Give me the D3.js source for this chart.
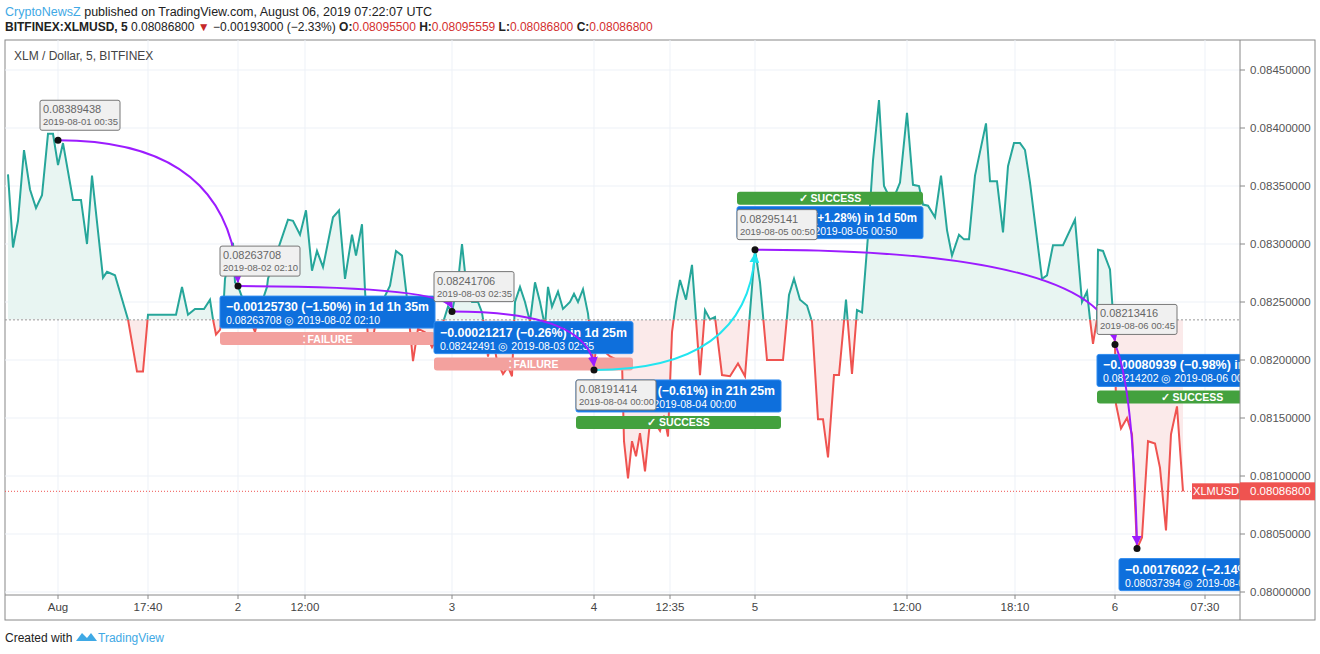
<!DOCTYPE html>
<html><head><meta charset="utf-8">
<script src="https://cdn.jsdelivr.net/npm/d3@7"></script>
<style>body{margin:0;background:#fff}svg{font-family:"Liberation Sans",Arial,sans-serif}</style>
</head><body><svg id="c" width="1320" height="654"></svg>
<script>
// bar index and price
const bars=[0,1,2,3.2,4.4,5.6,6.8,8,9,10,11,13,14.6,15.8,16.8,19,19.8,21.4,24,25.8,27,28,33.6,34.8,36,37.4,39.2,40.4,41,41.6,42.4,43,43.4,45,45.4,46,48,49.4,50.8,51.8,52,56,57,58.4,59.6,60.8,61.8,63,65,66.2,67.4,68.8,69.6,70.8,71.4,72,73,73.8,76.4,77.6,78.8,79.8,81,82,83.4,84.8,86.4,88,88.8,90,90.8,91.8,92.8,94,94.8,95.4,96,96.8,97.8,99,100,100.8,101.4,102.4,103.4,104.4,105.4,106.4,107.4,108,108.8,110,111,112.4,113.2,114,115,116,116.4,117.2,118,119.4,120.4,121.8,122.8,123.2,124,124.8,125.6,126.4,127.4,128.4,129.2,130.4,131.2,132,132.8,133.6,134.4,135.6,136.8,137.6,138.4,139.4,140.4,141.4,142.8,144.4,146,147.4,148.4,149.4,150.4,151.8,155,156.2,157.2,158.4,159.8,160.8,162,163,164,165.2,166.2,167.6,168.8,169.8,170.8,172,173,174.2,175.2,176.8,178.4,179.8,181,182.2,183,184,185.4,186.6,187.8,188.8,190.2,191.2,192.2,193.4,195.6,196.4,197.8,199,200,201.2,202.4,203.4,204.4,206.8,207.8,209,211,213.4,214.8,215.8,216.4,217,217.8,218,219,220.4,221.4,221.6,222.6,223.8,224.8,225.8,226.8,228,229.4,230.4,231.6,232.6,233.8,235];
const prices=[0.08360,0.08297,0.08320,0.08381,0.08347,0.08331,0.08342,0.08395,0.08395,0.08368,0.08387,0.08338,0.08338,0.08300,0.08359,0.08271,0.08276,0.08273,0.08235,0.08190,0.08190,0.08239,0.08239,0.08263,0.08239,0.08244,0.08244,0.08252,0.08235,0.08222,0.08226,0.08239,0.08270,0.08301,0.08267,0.08263708,0.08240,0.08224,0.08250,0.08263,0.08270,0.08321,0.08320,0.08308,0.08329,0.08277,0.08294,0.08280,0.08323,0.08329,0.08270,0.08308,0.08290,0.08317,0.08260,0.08218,0.08218,0.08241,0.08264,0.08294,0.08290,0.08253,0.08199,0.08227,0.08224,0.08211,0.08224,0.08246,0.08241706,0.08267,0.08300,0.08259,0.08250,0.08250,0.08241,0.08224,0.08203,0.08224,0.08199,0.08188,0.08194,0.08186,0.08250,0.08263,0.08250,0.08233,0.08267,0.08250,0.08229,0.08263,0.08246,0.08259,0.08244,0.08250,0.08257,0.08250,0.08261,0.08240,0.08224,0.08191414,0.08233,0.08207,0.08203,0.08200,0.08199,0.08130,0.08098,0.08130,0.08117,0.08137,0.08104,0.08147,0.08147,0.08139,0.08152,0.08134,0.08224,0.08250,0.08269,0.08252,0.08282,0.08235,0.08187,0.08243,0.08235,0.08237,0.08187,0.08186,0.08197,0.08186,0.08241,0.08295141,0.08267,0.08200,0.08200,0.08256,0.08270,0.08252,0.08247,0.08233,0.08149,0.08149,0.08116,0.08187,0.08187,0.08252,0.08188,0.08243,0.08241,0.08307,0.08372,0.08424,0.08350,0.08336,0.08353,0.08413,0.08351,0.08350,0.08334,0.08333,0.08323,0.08359,0.08312,0.08290,0.08308,0.08304,0.08304,0.08359,0.08404,0.08354,0.08354,0.08310,0.08367,0.08387,0.08387,0.08381,0.08353,0.08270,0.08273,0.08299,0.08299,0.08321,0.08250,0.08259,0.08235,0.08214,0.08235,0.08295,0.08294,0.08278,0.08213416,0.08162,0.08141,0.08150,0.08136,0.08037394,0.08047,0.08130,0.08128,0.08107,0.08053,0.08136,0.08160,0.08086800];
const baseline=0.082346, lastPrice=0.080868;
const xTickBars=[10,28,46,59.4,88.8,117.2,132.4,149.4,179.8,201.4,221.4,239.4];
const xTickLabels=["Aug","17:40","2","12:00","3","4","12:35","5","12:00","18:10","6","07:30"];
const yTicks=[0.0800,0.0805,0.0810,0.0815,0.0820,0.0825,0.0830,0.0835,0.0840,0.0845];
// annotated points
const ptBars=[10,46,88.8,117.2,149.4,221.4,225.8];
const ptVals=[0.08389438,0.08263708,0.08241706,0.08191414,0.08295141,0.08213416,0.08037394];
const ptDates=["2019-08-01 00:35","2019-08-02 02:10","2019-08-03 02:35","2019-08-04 00:00","2019-08-05 00:50","2019-08-06 00:45",""];
const labelSide=["up","up","up","down","up","up",null];
const boxMain=["","−0.00125730 (−1.50%) in 1d 1h 35m","−0.00021217 (−0.26%) in 1d 25m","−0.00050292 (−0.61%) in 21h 25m","+0.00103727 (+1.28%) in 1d 50m","−0.00080939 (−0.98%) in 1d 45m","−0.00176022 (−2.14%) in 35m"];
const boxSub=["","0.08263708 ◎ 2019-08-02  02:10","0.08242491 ◎ 2019-08-03  02:35","0.08191414 ◎ 2019-08-04  00:00","0.08295141 ◎ 2019-08-05  00:50","0.08214202 ◎ 2019-08-06  00:45","0.08037394 ◎ 2019-08-06  01:20"];
const outcome=["","FAILURE","FAILURE","SUCCESS","SUCCESS","SUCCESS",""];
const arrowColor=["#9c1cff","#9c1cff","#9c1cff","#22e5f0","#9c1cff","#9c1cff"];

const svg=d3.select("#c");
const L=5,R=1240,T=40,B=595;
const x=d3.scaleLinear().domain([0,246.4]).range([8,1240]);
const y=d3.scaleLinear().domain([0.0800,0.0845]).range([592,70]);
svg.append("rect").attr("x",L).attr("y",T).attr("width",1315-L).attr("height",620-T).attr("fill","none").attr("stroke","#888");
svg.append("defs").html(`<clipPath id="pc"><rect x="${L}" y="${T}" width="${R-L}" height="${B-T}"/></clipPath>
<clipPath id="ab"><rect x="${L}" y="${T}" width="${R-L}" height="${y(baseline)-T}"/></clipPath>
<clipPath id="bl"><rect x="${L}" y="${y(baseline)}" width="${R-L}" height="${B-y(baseline)}"/></clipPath>
<marker id="mp" viewBox="0 0 10 10" refX="9" refY="5" markerWidth="5" markerHeight="5" orient="auto"><path d="M0,0L10,5L0,10z" fill="#9c1cff"/></marker>
<marker id="mc" viewBox="0 0 10 10" refX="9" refY="5" markerWidth="5" markerHeight="5" orient="auto"><path d="M0,0L10,5L0,10z" fill="#22e5f0"/></marker>`);
const g=svg.append("g").attr("clip-path","url(#pc)");
yTicks.forEach(v=>g.append("line").attr("x1",L).attr("x2",R).attr("y1",y(v)).attr("y2",y(v)).attr("stroke","#edf1f7"));
xTickBars.forEach(b=>g.append("line").attr("y1",T).attr("y2",B).attr("x1",x(b)).attr("x2",x(b)).attr("stroke","#edf1f7"));
const data=bars.map((b,i)=>[b,prices[i]]);
const area=d3.area().x(d=>x(d[0])).y0(y(baseline)).y1(d=>y(d[1]));
const line=d3.line().x(d=>x(d[0])).y(d=>y(d[1]));
g.append("path").attr("d",area(data)).attr("fill","#e8f5f2").attr("clip-path","url(#ab)");
g.append("path").attr("d",area(data)).attr("fill","#fbeaea").attr("clip-path","url(#bl)");
g.append("line").attr("x1",L).attr("x2",R).attr("y1",y(baseline)).attr("y2",y(baseline)).attr("stroke","#999").attr("stroke-dasharray","2,2");
g.append("path").attr("d",line(data)).attr("fill","none").attr("stroke","#26a69a").attr("stroke-width",2).attr("clip-path","url(#ab)");
g.append("path").attr("d",line(data)).attr("fill","none").attr("stroke","#ef5350").attr("stroke-width",2).attr("clip-path","url(#bl)");
g.append("line").attr("x1",L).attr("x2",R).attr("y1",y(lastPrice)).attr("y2",y(lastPrice)).attr("stroke","#ef5350").attr("stroke-dasharray","1,2");
const P=ptBars.map((b,i)=>({x:x(b),y:y(ptVals[i])}));
const wBox=[0,215,199,205,186,190,190];
for(let i=1;i<7;i++){
  const p=P[i], bx=p.x-18, by= i==4? p.y-43 : p.y+10;
  g.append("rect").attr("x",bx).attr("y",by).attr("width",wBox[i]).attr("height",32).attr("rx",2).attr("fill","#0e6fdc").attr("stroke","#2f8cf0");
  const t=g.append("text").attr("x",bx+6).attr("y",by+15).attr("fill","#fff").attr("font-size",12.5).attr("font-weight","bold").text(boxMain[i]);
  if(i<5 && t.node().getComputedTextLength()>wBox[i]-12) t.attr("textLength",wBox[i]-12).attr("lengthAdjust","spacingAndGlyphs");
  g.append("text").attr("x",bx+6).attr("y",by+28).attr("fill","#fff").attr("font-size",10.5).text(boxSub[i]);
  if(outcome[i]){
    const ok=outcome[i]=="SUCCESS";
    const oy= i==4? p.y-58 : by+36;
    g.append("rect").attr("x",bx).attr("y",oy).attr("width",wBox[i]).attr("height",13).attr("rx",3).attr("fill",ok?"#43a13e":"#f3a19e");
    g.append("text").attr("x",bx+wBox[i]/2).attr("y",oy+10.5).attr("text-anchor","middle").attr("fill","#fff").attr("font-size",10.5).attr("font-weight","bold").text((ok?"✓ ":"⁚ ")+outcome[i]);
  }
}
for(let i=0;i<6;i++){
  const a=P[i], b=P[i+1];
  const c= i==5? [b.x-4,a.y+40] : [b.x-(b.x-a.x)*0.05, a.y];
  g.append("path").attr("d",`M${a.x},${a.y}Q${c[0]},${c[1]} ${b.x},${b.y-(b.y>a.y?4:-4)}`).attr("fill","none")
   .attr("stroke",arrowColor[i]).attr("stroke-width",2).attr("marker-end",i==3?"url(#mc)":"url(#mp)");
}
for(let i=0;i<7;i++){
  const p=P[i];
  if(labelSide[i]){
    const up=labelSide[i]=="up", bx=p.x-18, by=up?p.y-40:p.y+10;
    g.append("rect").attr("x",bx).attr("y",by).attr("width",80).attr("height",30).attr("rx",2).attr("fill","#f0f0f0").attr("stroke","#777");
    g.append("text").attr("x",bx+3).attr("y",by+13).attr("fill","#666").attr("font-size",11).text(ptVals[i].toFixed(8));
    g.append("text").attr("x",bx+3).attr("y",by+25).attr("fill","#666").attr("font-size",9.5).text(ptDates[i]);
  }
  g.append("circle").attr("cx",p.x).attr("cy",p.y).attr("r",3.5).attr("fill","#111");
}
g.append("rect").attr("x",R-48).attr("y",y(lastPrice)-8).attr("width",48).attr("height",16).attr("fill","#ef5350");
g.append("text").attr("x",R-24).attr("y",y(lastPrice)+4).attr("text-anchor","middle").attr("fill","#fff").attr("font-size",11).text("XLMUSD");
svg.append("line").attr("x1",R).attr("x2",R).attr("y1",T).attr("y2",620).attr("stroke","#888");
svg.append("line").attr("x1",L).attr("x2",R).attr("y1",B).attr("y2",B).attr("stroke","#888");
yTicks.forEach(v=>{svg.append("line").attr("x1",R).attr("x2",R+5).attr("y1",y(v)).attr("y2",y(v)).attr("stroke","#888");
 svg.append("text").attr("x",R+10).attr("y",y(v)+4).attr("font-size",11.5).attr("fill","#555").text(v.toFixed(8));});
svg.append("rect").attr("x",R).attr("y",y(lastPrice)-9).attr("width",75).attr("height",18).attr("fill","#ef5350");
svg.append("text").attr("x",R+10).attr("y",y(lastPrice)+4).attr("font-size",11.5).attr("fill","#fff").text(lastPrice.toFixed(8));
xTickBars.forEach((b,i)=>{svg.append("line").attr("x1",x(b)).attr("x2",x(b)).attr("y1",B).attr("y2",B+4).attr("stroke","#888");
 svg.append("text").attr("x",x(b)).attr("y",611).attr("text-anchor","middle").attr("font-size",11.5).attr("fill","#444").text(xTickLabels[i]);});
const h=svg.append("text").attr("x",5).attr("y",16).attr("font-size",12.5).attr("fill","#222");
h.append("tspan").attr("fill","#3fa9e5").text("CryptoNewsZ");
h.append("tspan").text(" published on TradingView.com, August 06, 2019 07:22:07 UTC");
const h2=svg.append("text").attr("x",5).attr("y",31).attr("font-size",12).attr("fill","#222");
h2.append("tspan").attr("font-weight","bold").text("BITFINEX:XLMUSD, 5");
h2.append("tspan").text(" 0.08086800 ");
h2.append("tspan").attr("fill","#c62828").text("▼");
h2.append("tspan").text(" −0.00193000 (−2.33%) ");
[["O:","0.08095500"],["H:","0.08095559"],["L:","0.08086800"],["C:","0.08086800"]].forEach(([k,v])=>{
 h2.append("tspan").attr("font-weight","bold").text(k); h2.append("tspan").attr("fill","#d32f2f").text(v+" ");});
svg.append("text").attr("x",14).attr("y",60).attr("font-size",12).attr("fill","#444").text("XLM / Dollar, 5, BITFINEX");
const f=svg.append("text").attr("x",5).attr("y",642).attr("font-size",12).attr("fill","#222");
f.append("tspan").text("Created with ");
svg.append("path").attr("d","M76,641l6,-8l5,5l4,-5l6,8z").attr("fill","#3fa9e5");
svg.append("text").attr("x",98).attr("y",642).attr("font-size",12).attr("fill","#3fa9e5").text("TradingView");
</script></body></html>
